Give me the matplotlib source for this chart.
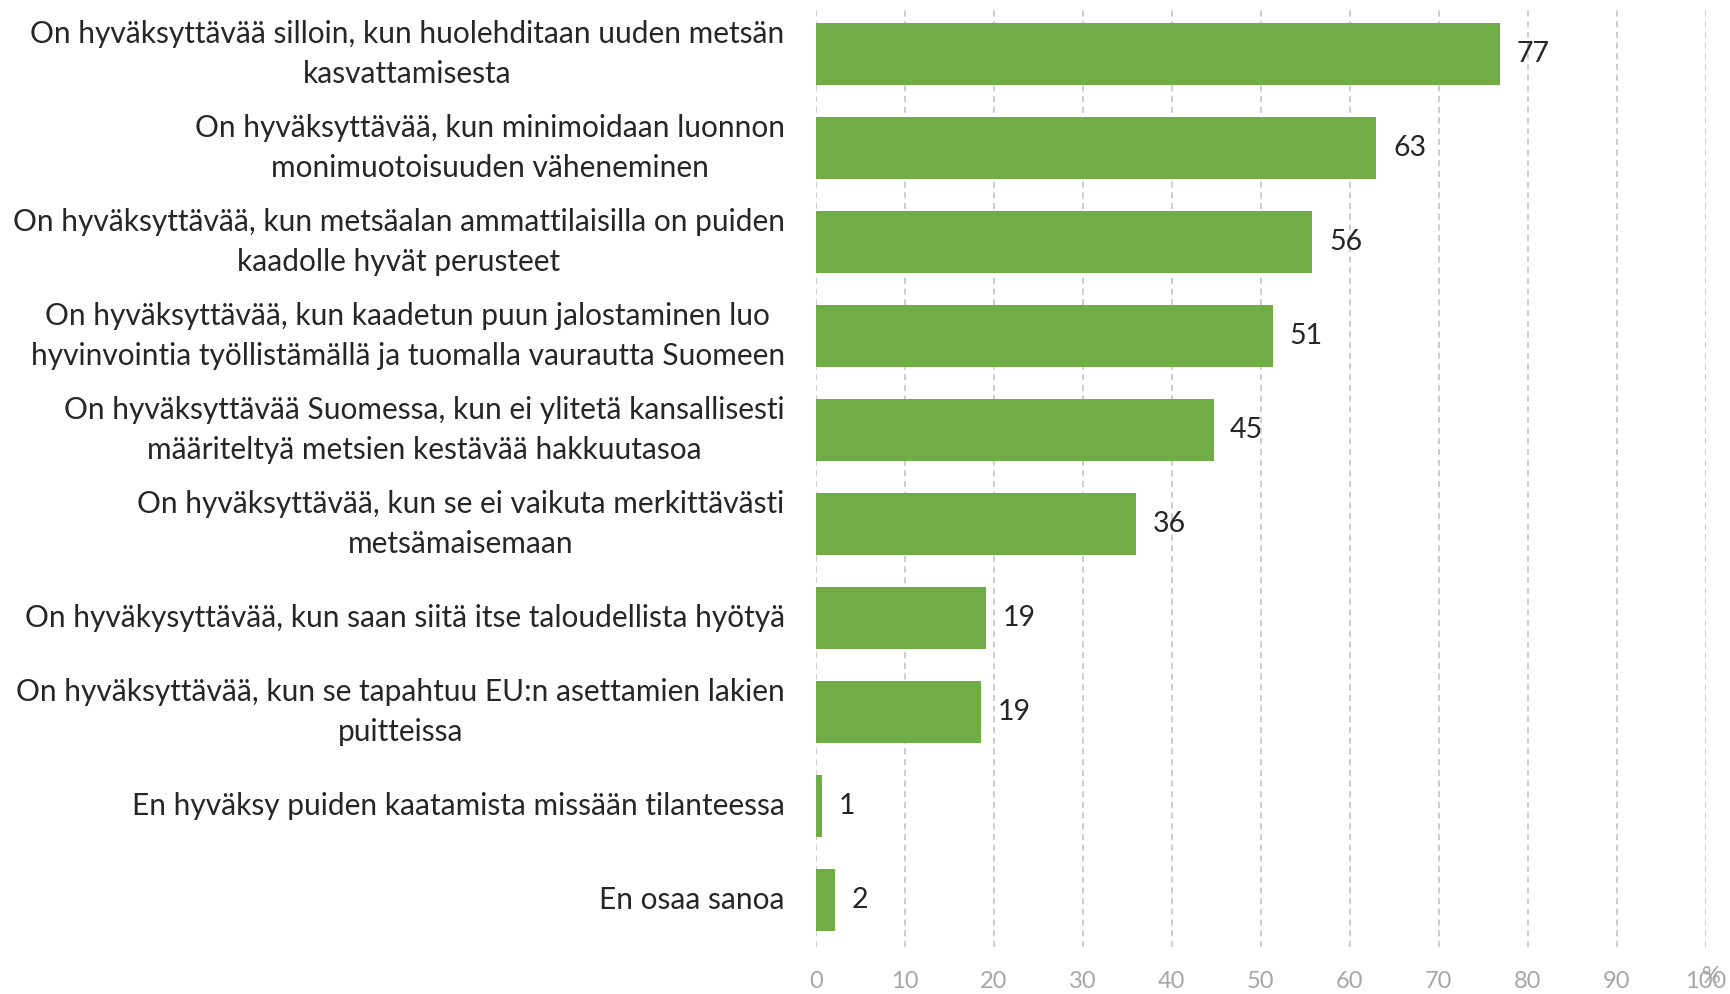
import matplotlib.pyplot as plt

plt.rcParams['font.family'] = ['Lato', 'DejaVu Sans']

# vastaukset, ylhäältä alas
categories = [
    'On hyväksyttävää silloin, kun huolehditaan uuden metsän\nkasvattamisesta',
    'On hyväksyttävää, kun minimoidaan luonnon\nmonimuotoisuuden väheneminen',
    'On hyväksyttävää, kun metsäalan ammattilaisilla on puiden\nkaadolle hyvät perusteet',
    'On hyväksyttävää, kun kaadetun puun jalostaminen luo\nhyvinvointia työllistämällä ja tuomalla vaurautta Suomeen',
    'On hyväksyttävää Suomessa, kun ei ylitetä kansallisesti\nmääriteltyä metsien kestävää hakkuutasoa',
    'On hyväksyttävää, kun se ei vaikuta merkittävästi\nmetsämaisemaan',
    'On hyväkysyttävää, kun saan siitä itse taloudellista hyötyä',
    'On hyväksyttävää, kun se tapahtuu EU:n asettamien lakien\npuitteissa',
    'En hyväksy puiden kaatamista missään tilanteessa',
    'En osaa sanoa',
]
values = [76.9, 63.0, 55.8, 51.4, 44.7, 36.0, 19.1, 18.6, 0.7, 2.2]
value_labels = ['77', '63', '56', '51', '45', '36', '19', '19', '1', '2']
x_ticks = [0, 10, 20, 30, 40, 50, 60, 70, 80, 90, 100]

fig = plt.figure(figsize=(17.31, 9.94), dpi=100)
ax = fig.add_axes([0.4713, 0.0472, 0.5140, 0.9456])

pos = list(range(len(categories)))
bars = ax.barh(pos, values, height=0.66, color='#70AD47', zorder=3)
ax.bar_label(bars, labels=value_labels, padding=12, fontsize=20.5, color='#262626')

ax.set_ylim(len(categories) - 0.5, -0.5)
ax.set_xlim(0, 100)
ax.set_yticks([])

# kategorioiden tekstit, keskitetty lohko joka päättyy akselin vasemmalle puolelle
tr = ax.get_yaxis_transform()
for p, c in zip(pos, categories):
    ax.text(-0.035, p, c, transform=tr, ha='right', va='center',
            multialignment='center', fontsize=21.5, color='#262626',
            linespacing=1.5)

ax.set_xticks(x_ticks)
ax.set_xticklabels([str(t) for t in x_ticks], fontsize=17, color='#a6a6a6')
ax.tick_params(axis='x', length=0, pad=17)

ax.grid(axis='x', color='#bfbfbf', linestyle=(0, (4, 3)), linewidth=1.1, zorder=0)
for s in ax.spines.values():
    s.set_visible(False)

ax.text(1.007, -0.031, '%', transform=ax.transAxes, fontsize=17,
        color='#a6a6a6', ha='center', va='center')

fig.savefig('out.png', dpi=100)
